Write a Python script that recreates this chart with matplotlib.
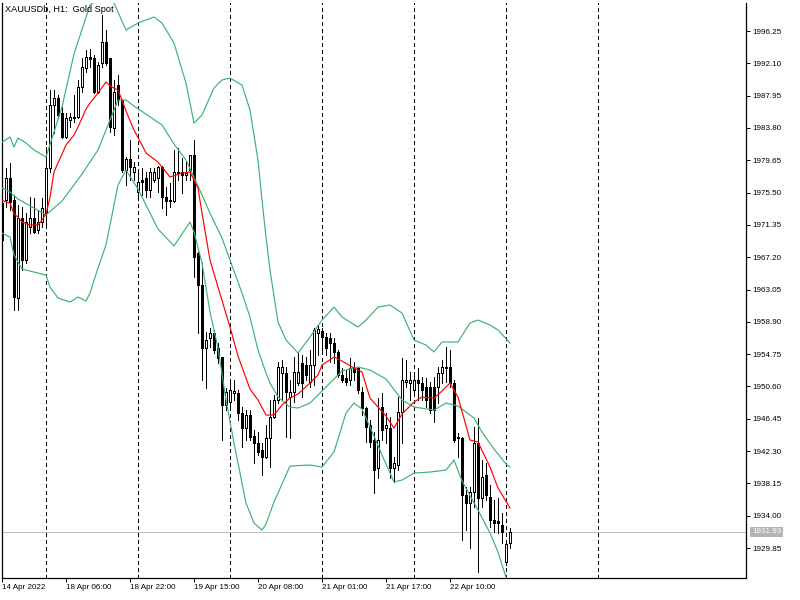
import matplotlib
matplotlib.use("Agg")
import matplotlib.pyplot as plt
import matplotlib.transforms as mtransforms

plt.rcParams['font.family'] = ['Liberation Sans', 'DejaVu Sans']

# XAUUSDb H1 bars (oldest first)
opens = [1974.16, 1974.54, 1977.37, 1974.54, 1961.96, 1972.23, 1966.84, 1971.08, 1972.23, 1970.69,
         1971.72, 1972.87, 1978.65, 1986.75, 1987.64, 1985.72, 1982.64, 1984.82, 1985.07, 1985.20,
         1989.06, 1991.50, 1992.91, 1992.78, 1988.41, 1992.14, 1994.84, 1992.78, 1983.79, 1989.31,
         1987.39, 1978.40, 1979.81, 1978.14, 1975.57, 1977.11, 1977.37, 1975.83, 1977.11, 1977.37,
         1978.78, 1974.93, 1974.54, 1974.42, 1978.01, 1978.14, 1977.75, 1978.40, 1980.33, 1967.74,
         1963.63, 1955.54, 1956.82, 1957.46, 1955.54, 1954.38, 1948.22, 1948.60, 1949.76, 1949.76,
         1947.19, 1945.26, 1946.93, 1944.24, 1943.34, 1942.44, 1941.54, 1943.98, 1946.68, 1948.86,
         1952.33, 1952.33, 1949.24, 1949.89, 1951.04, 1953.61, 1953.35, 1951.17, 1953.35, 1957.46,
         1957.72, 1956.95, 1956.82, 1956.18, 1955.03, 1952.07, 1951.68, 1951.43, 1953.10, 1952.97,
         1949.89, 1947.83, 1945.65, 1943.72, 1940.12, 1947.96, 1945.26, 1945.26, 1940.12, 1940.51,
         1947.32, 1951.17, 1951.04, 1950.14, 1951.43, 1951.04, 1950.53, 1950.53, 1950.53, 1950.53,
         1952.33, 1953.10, 1953.10, 1951.04, 1943.98, 1943.98, 1936.66, 1935.63, 1937.04, 1943.34,
         1936.27, 1939.23, 1936.40, 1933.45, 1933.32, 1932.81, 1928.05, 1930.50]
highs = [1975.19, 1978.65, 1979.30, 1975.19, 1973.90, 1973.65, 1972.87, 1974.93, 1974.80, 1973.26,
         1974.80, 1981.35, 1988.67, 1988.67, 1988.03, 1986.49, 1985.72, 1985.72, 1988.03, 1989.96,
         1992.78, 1993.81, 1993.94, 1993.17, 1992.27, 1998.30, 1996.38, 1992.78, 1989.96, 1990.60,
         1987.39, 1980.07, 1982.25, 1979.42, 1978.40, 1978.65, 1978.14, 1978.65, 1978.65, 1978.91,
         1978.91, 1976.21, 1976.73, 1980.97, 1981.22, 1979.94, 1979.42, 1980.33, 1982.25, 1967.87,
         1966.45, 1957.59, 1958.10, 1957.85, 1956.18, 1954.38, 1950.40, 1951.43, 1951.43, 1950.14,
         1947.96, 1947.57, 1947.57, 1945.01, 1944.75, 1943.34, 1945.65, 1948.86, 1949.50, 1953.74,
         1954.00, 1953.10, 1951.43, 1954.38, 1954.89, 1954.64, 1954.38, 1955.28, 1958.10, 1958.49,
         1958.10, 1957.46, 1957.46, 1956.82, 1955.28, 1952.97, 1952.71, 1954.25, 1953.74, 1953.10,
         1950.53, 1947.96, 1946.29, 1944.75, 1949.12, 1949.76, 1947.19, 1946.68, 1941.54, 1949.24,
         1954.25, 1954.00, 1952.45, 1952.33, 1952.97, 1951.81, 1951.68, 1951.17, 1951.81, 1953.10,
         1954.00, 1955.66, 1955.28, 1951.43, 1944.62, 1944.11, 1937.69, 1937.69, 1945.39, 1946.55,
         1941.15, 1940.77, 1937.94, 1936.02, 1936.27, 1934.35, 1930.88, 1932.42]
lows = [1968.77, 1973.65, 1973.26, 1960.42, 1960.42, 1965.55, 1966.45, 1970.31, 1970.31, 1970.31,
        1971.08, 1971.08, 1978.14, 1983.15, 1985.07, 1982.51, 1982.51, 1983.92, 1984.56, 1985.07,
        1988.41, 1990.98, 1991.63, 1988.29, 1988.29, 1991.63, 1991.88, 1983.28, 1982.89, 1986.75,
        1978.14, 1976.47, 1977.11, 1977.11, 1974.93, 1975.19, 1974.93, 1974.93, 1976.86, 1975.57,
        1973.52, 1972.62, 1973.65, 1974.29, 1977.11, 1975.44, 1977.11, 1977.11, 1964.65, 1957.46,
        1951.43, 1950.40, 1955.66, 1954.89, 1953.61, 1943.72, 1947.57, 1947.96, 1948.86, 1946.29,
        1942.82, 1943.72, 1943.72, 1940.77, 1941.79, 1939.23, 1941.41, 1940.25, 1946.55, 1948.47,
        1948.86, 1944.11, 1943.98, 1948.60, 1950.79, 1949.24, 1951.43, 1950.53, 1950.79, 1954.64,
        1954.89, 1954.64, 1953.74, 1953.61, 1951.81, 1951.17, 1950.79, 1950.79, 1951.43, 1949.76,
        1946.93, 1943.47, 1942.82, 1936.91, 1938.84, 1943.72, 1943.34, 1938.84, 1938.33, 1939.87,
        1943.34, 1950.53, 1948.86, 1949.89, 1948.86, 1948.86, 1947.96, 1947.19, 1946.03, 1948.47,
        1951.04, 1951.17, 1950.53, 1943.47, 1941.54, 1930.88, 1932.16, 1929.85, 1935.12, 1926.77,
        1935.12, 1936.02, 1932.55, 1931.91, 1931.78, 1930.50, 1927.67, 1929.85]
closes = [1969.41, 1977.37, 1974.29, 1962.09, 1972.23, 1966.84, 1971.72, 1972.23, 1970.43, 1971.72,
          1973.52, 1978.65, 1986.75, 1987.64, 1985.46, 1982.64, 1985.07, 1985.20, 1985.20, 1989.06,
          1991.63, 1992.91, 1992.65, 1988.41, 1991.88, 1994.84, 1992.14, 1983.92, 1988.41, 1987.39,
          1978.40, 1979.81, 1978.78, 1978.78, 1976.86, 1976.86, 1975.83, 1978.14, 1978.14, 1978.78,
          1974.93, 1974.42, 1974.42, 1978.14, 1978.14, 1977.75, 1978.01, 1980.33, 1967.22, 1963.63,
          1955.54, 1956.57, 1957.46, 1955.28, 1954.25, 1948.22, 1949.89, 1950.14, 1950.01, 1947.19,
          1945.26, 1946.93, 1944.11, 1943.34, 1942.18, 1941.54, 1943.98, 1946.68, 1948.86, 1953.10,
          1953.10, 1949.89, 1949.89, 1952.45, 1952.45, 1951.04, 1952.07, 1953.35, 1957.85, 1957.98,
          1956.95, 1955.54, 1956.18, 1955.03, 1952.07, 1951.43, 1951.17, 1952.97, 1952.45, 1950.14,
          1947.83, 1945.39, 1943.47, 1939.87, 1943.72, 1945.01, 1945.65, 1940.12, 1940.77, 1947.32,
          1951.43, 1951.43, 1951.43, 1951.43, 1951.04, 1950.14, 1948.86, 1947.57, 1947.57, 1952.33,
          1953.10, 1952.97, 1951.04, 1943.72, 1944.11, 1936.66, 1935.63, 1937.04, 1943.34, 1936.27,
          1938.97, 1936.66, 1933.45, 1933.06, 1933.06, 1931.91, 1930.37, 1931.93]

# indicator lines, read at the bar indices given next to each
bb_upper_idx = [0, 2, 3, 4, 6, 8, 11, 15, 18, 22, 24, 26, 28, 31, 34, 38, 40, 43, 46, 48,
                50, 53, 55, 57, 60, 62, 64, 65, 66, 67, 68, 69, 71, 74, 77, 80, 83, 85, 89, 91,
                94, 97, 100, 103, 106, 108, 110, 114, 117, 119, 122, 124, 127]
bb_upper = [1981.99, 1982.64, 1981.35, 1982.51, 1981.86, 1980.97, 1980.07, 1986.49, 1993.30, 1999.59,
            2000.23, 2000.36, 1999.84, 1996.38, 1997.28, 1998.05, 1997.28, 1994.71, 1989.57, 1984.43,
            1985.46, 1988.93, 1989.96, 1990.21, 1989.31, 1986.10, 1979.68, 1974.54, 1969.79, 1965.55,
            1962.22, 1958.88, 1956.57, 1954.89, 1956.95, 1959.13, 1960.80, 1959.52, 1958.23, 1959.13,
            1960.80, 1961.06, 1960.03, 1956.57, 1955.92, 1955.03, 1956.31, 1956.31, 1958.75, 1959.13,
            1958.49, 1957.85, 1956.18]

bb_middle_idx = [0, 2, 4, 8, 11, 15, 20, 24, 27, 29, 31, 33, 40, 43, 46, 49, 52, 55, 57, 60,
                 62, 64, 66, 67, 69, 72, 74, 77, 80, 83, 85, 89, 92, 96, 100, 103, 108, 111, 114, 118,
                 120, 123, 126, 127]
bb_middle = [1976.09, 1975.57, 1974.67, 1973.52, 1972.62, 1974.42, 1977.88, 1980.97, 1984.82, 1987.39,
             1987.39, 1986.62, 1984.18, 1981.74, 1979.68, 1976.34, 1972.87, 1969.66, 1966.84, 1962.60,
             1959.52, 1955.28, 1952.33, 1951.04, 1949.24, 1947.96, 1947.83, 1948.47, 1950.01, 1951.56,
             1952.58, 1953.10, 1952.71, 1951.56, 1948.86, 1947.96, 1947.57, 1948.47, 1948.09, 1946.55,
             1944.75, 1942.57, 1940.64, 1940.25]

bb_lower_idx = [0, 2, 3, 5, 11, 12, 14, 17, 19, 21, 22, 24, 26, 29, 31, 34, 36, 39, 43, 45,
                47, 48, 50, 52, 54, 56, 58, 61, 63, 65, 66, 68, 72, 77, 80, 83, 86, 88, 90, 93,
                95, 98, 100, 103, 107, 111, 113, 115, 119, 122, 124, 127]
bb_lower = [1970.31, 1969.79, 1967.48, 1965.68, 1964.91, 1963.37, 1961.96, 1961.44, 1962.09, 1961.57,
            1962.60, 1965.81, 1968.77, 1976.47, 1978.40, 1975.96, 1973.90, 1970.82, 1968.64, 1970.18,
            1971.72, 1970.43, 1966.45, 1960.16, 1955.54, 1948.86, 1943.34, 1935.63, 1933.06, 1932.16,
            1932.93, 1935.76, 1940.38, 1940.51, 1940.25, 1942.18, 1947.19, 1948.47, 1947.70, 1944.23,
            1941.79, 1938.33, 1938.58, 1939.48, 1939.61, 1939.87, 1941.15, 1938.46, 1934.73, 1931.78,
            1929.34, 1924.46]

ma_idx = [0, 1, 2, 3, 4, 5, 7, 9, 10, 11, 12, 13, 14, 15, 16, 18, 19, 21, 22, 24,
          26, 27, 29, 30, 31, 33, 35, 36, 39, 42, 45, 47, 49, 50, 52, 54, 57, 59, 62, 64,
          66, 68, 70, 72, 74, 77, 79, 80, 83, 85, 88, 90, 92, 94, 96, 98, 100, 103, 105, 108,
          110, 112, 114, 117, 119, 122, 124, 127]
ma_red = [1974.54, 1974.29, 1974.16, 1972.75, 1972.36, 1971.72, 1971.33, 1971.33, 1971.98, 1972.75,
          1974.93, 1978.14, 1979.30, 1980.45, 1981.61, 1982.89, 1983.92, 1986.23, 1987.00, 1988.29,
          1989.70, 1989.19, 1988.67, 1987.39, 1985.97, 1983.53, 1981.61, 1980.58, 1979.42, 1977.50,
          1978.01, 1978.14, 1976.09, 1972.87, 1966.84, 1963.37, 1958.23, 1954.51, 1950.27, 1948.86,
          1946.93, 1946.93, 1948.22, 1949.11, 1949.63, 1951.04, 1952.07, 1953.35, 1954.38, 1953.87,
          1952.97, 1952.45, 1949.11, 1947.96, 1946.80, 1945.26, 1947.06, 1948.60, 1949.24, 1949.11,
          1950.01, 1951.04, 1949.24, 1943.72, 1943.47, 1940.25, 1937.56, 1934.99]

date_ticks = [0, 16, 32, 48, 64, 80, 96, 112]
date_labels = ["14 Apr 2022", "18 Apr 06:00", "18 Apr 22:00", "19 Apr 15:00",
               "20 Apr 08:00", "21 Apr 01:00", "21 Apr 17:00", "22 Apr 10:00"]
day_starts = [11, 34, 57, 80, 103, 126, 149]
price_ticks = [1929.85, 1934.00, 1938.15, 1942.30, 1946.45, 1950.60, 1954.75, 1958.90, 1963.05,
               1967.20, 1971.35, 1975.50, 1979.65, 1983.80, 1987.95, 1992.10, 1996.25]
last_price = 1931.93

bars = list(range(len(closes)))
up = [i for i in bars if closes[i] >= opens[i]]
down = [i for i in bars if closes[i] < opens[i]]

px = 0.72  # one pixel in points at 100 dpi

fig = plt.figure(figsize=(8, 6), dpi=100)
ax = fig.add_axes([2 / 800, 22 / 600, 744 / 800, 575 / 600])

# period separators and bid line
for d in day_starts:
    ax.axvline(d, color='black', linewidth=px, linestyle=(0, (4, 3)), antialiased=False, zorder=1)
ax.axhline(last_price, color='#c0c0c0', linewidth=px, antialiased=False, zorder=1)

# candles
ax.vlines(bars, lows, highs, color='black', linewidth=px, antialiased=False, zorder=3)
ax.bar(up, [closes[i] - opens[i] for i in up], bottom=[opens[i] for i in up], width=0.5,
       color='white', edgecolor='black', linewidth=px, antialiased=False, zorder=4)
ax.bar(down, [opens[i] - closes[i] for i in down], bottom=[closes[i] for i in down], width=0.5,
       color='black', edgecolor='black', linewidth=px, antialiased=False, zorder=4)

# indicators
green = '#3cb371'
ax.plot(bb_upper_idx, bb_upper, color=green, linewidth=0.85, zorder=5)
ax.plot(bb_middle_idx, bb_middle, color=green, linewidth=0.85, zorder=5)
ax.plot(bb_lower_idx, bb_lower, color=green, linewidth=0.85, zorder=5)
ax.plot(ma_idx, ma_red, color='red', linewidth=0.85, zorder=6)

ax.set_xlim(0, 186)
ax.set_ylim(1926.0, 1999.85)

ax.set_xticks(date_ticks)
ax.set_xticklabels(date_labels, ha='left')
ax.yaxis.tick_right()
ax.set_yticks(price_ticks)
ax.set_yticklabels([f"{p:.2f}" for p in price_ticks])
ax.tick_params(axis='both', direction='out', length=3, width=px, labelsize=5.8, pad=1.5, colors='black')

for s in ['left', 'right', 'bottom']:
    ax.spines[s].set_linewidth(0.9)
ax.spines['top'].set_visible(False)

ax.text(3 / 744, 1 - 7 / 575, "XAUUSDb, H1:  Gold Spot", transform=ax.transAxes,
        fontsize=6.6, va='center', ha='left', zorder=10)

trans = mtransforms.blended_transform_factory(ax.transAxes, ax.transData)
ax.text(1 + 6 / 744, last_price, f"{last_price:.2f}", transform=trans, ha='left', va='center',
        fontsize=5.8, color='white',
        bbox=dict(boxstyle='square,pad=0.2', facecolor='#b4b4b4', edgecolor='none'))

fig.savefig('out.png', dpi=100)
